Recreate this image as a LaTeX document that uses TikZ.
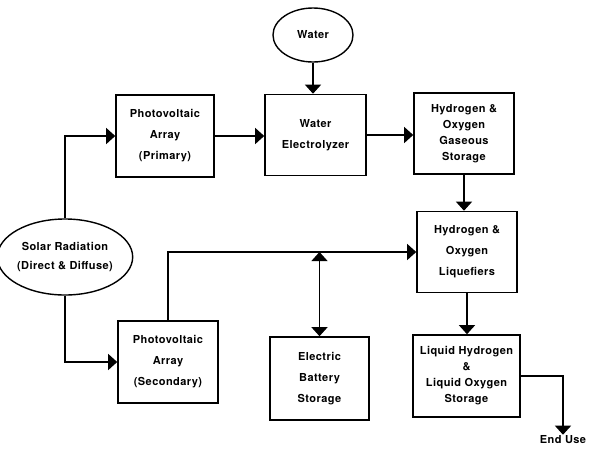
\documentclass[tikz,border=0pt]{standalone}
\usepackage{fontspec}
\setmainfont{TeX Gyre Heros}[LetterSpace=4]
\usetikzlibrary{arrows.meta,positioning,shapes.geometric}

\tikzset{
  blk/.style={draw,line width=1.6pt,align=center,inner sep=0pt,
    font=\bfseries\fontsize{11}{21}\selectfont},
  blkfour/.style={blk,font=\bfseries\fontsize{11}{16}\selectfont},
  oval/.style={draw,ellipse,line width=1.4pt,align=center,inner sep=0pt,
    font=\bfseries\fontsize{11}{19}\selectfont},
  flow/.style={line width=1.1pt,-{Triangle[width=16pt,length=9pt]}},
  flowboth/.style={line width=1.1pt,{Triangle[width=16pt,length=9pt]}-{Triangle[width=16pt,length=9pt]}}
}

\begin{document}
\begin{tikzpicture}[x=1pt,y=-1pt]
\useasboundingbox (0,0) rectangle (590,448);
\node[oval,minimum width=80pt,minimum height=54pt] (water) at (313,35) {Water};
\node[blk,minimum width=98pt,minimum height=82pt] (pvp) at (165,136) {Photovoltaic\\Array\\(Primary)};
\node[blk,minimum width=101pt,minimum height=81pt] (elec) at (315.5,135) {Water\\Electrolyzer};
\node[blkfour,minimum width=100pt,minimum height=81pt] (gas) at (464,133.5) {Hydrogen \&\\Oxygen\\Gaseous\\Storage};
\node[blk,minimum width=100pt,minimum height=81pt] (liq) at (467,252) {Hydrogen \&\\Oxygen\\Liquefiers};
\node[blkfour,minimum width=107pt,minimum height=82pt] (lstore) at (466.5,376) {Liquid Hydrogen\\\&\\Liquid Oxygen\\Storage};
\node[blk,minimum width=99pt,minimum height=83pt] (batt) at (319.5,378.5) {Electric\\Battery\\Storage};
\node[blk,minimum width=100pt,minimum height=82pt] (pvs) at (168,362) {Photovoltaic\\Array\\(Secondary)};
\node[oval,minimum width=120pt,minimum height=76pt] (solar) at (65,257) {Solar Radiation\\(Direct \& Diffuse)};
\node[font=\bfseries\fontsize{11}{12}\selectfont,inner sep=1pt] (enduse) at (563,440) {End Use};
% connectors
\draw[flow] (solar.north) |- (pvp.west);
\draw[flow] (solar.south) |- (pvs.west);
\draw[flow] (pvp.east) -- (pvp.east -| elec.west);
\draw[flow] (elec.east) -- (elec.east -| gas.west);
\draw[flow] (water.south) -- (water.south |- elec.north);
\draw[flow] (gas.south) -- (gas.south |- liq.north);
\draw[flow] (pvs.north) |- (liq.west);
\coordinate (junc) at (batt.north |- liq.west);
\draw[flowboth] (junc) -- (batt.north);
\draw[flow] (liq.south) -- (liq.south |- lstore.north);
\draw[flow] (lstore.east) -| (enduse.north);
\end{tikzpicture}
\end{document}
